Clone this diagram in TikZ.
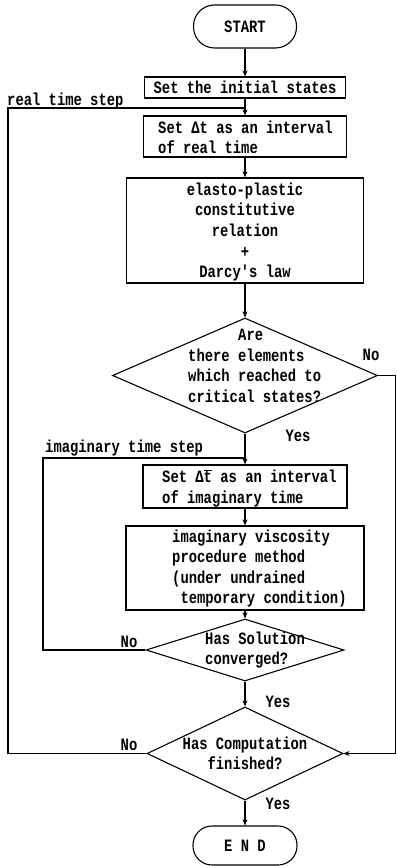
\documentclass[tikz,border=0pt]{standalone}
\usepackage{fontspec}
\newfontfamily\tw[FakeStretch=0.8]{Liberation Mono}
\usetikzlibrary{shapes.geometric,arrows.meta}
\begin{document}
\begin{tikzpicture}[x=1pt,y=-1pt,
  every node/.style={font=\tw\bfseries\fontsize{17.3}{20.6}\selectfont},
  box/.style={draw, line width=1.1pt, rectangle, inner sep=0pt},
  term/.style={draw, line width=1.1pt, rectangle, inner sep=0pt},
  dec/.style={draw, diamond, line width=1.1pt, inner sep=0pt},
  txt/.style={inner sep=0pt, align=left},
  lbl/.style={inner sep=0pt},
  ln/.style={line width=1.1pt},
  arr/.style={line width=1.1pt, -{Stealth[length=6pt,width=5pt]}},
  arrthin/.style={line width=0.7pt, -{Stealth[length=6pt,width=5pt]}}]
\useasboundingbox (0,0) rectangle (398,866);
\node[term, rounded corners=21pt, minimum width=103pt, minimum height=43pt] (start) at (245,26.5) {START};
\node[box, minimum width=201pt, minimum height=21pt] (init) at (245,87.5) {Set the initial states};
\node[box, minimum width=203pt, minimum height=41pt] (setdt) at (245,136.5) {};
\node[txt, anchor=west] (setdtT) at (158,137.5) {Set Δt as an interval\\of real time};
\node[box, minimum width=237pt, minimum height=105pt] (elasto) at (245,230.5) {};
\node[txt, align=center] (elastoT) at (245,232) {elasto-plastic\\constitutive\\relation\\+\\Darcy's law};
\node[dec, minimum width=265pt, minimum height=115pt] (d1) at (245,375.5) {};
\node[txt, anchor=west] (d1T) at (188,366) {\hspace*{50pt}Are\\there elements\\which reached to\\critical states?};
\node[box, minimum width=204pt, minimum height=43pt] (setdtau) at (245,486.5) {};
\node[txt, anchor=west] (setdtauT) at (162,488) {Set Δ$\overline{\hbox{t}}$ as an interval\\of imaginary time};
\node[box, minimum width=238pt, minimum height=84pt] (imag) at (245,568) {};
\node[txt, anchor=west] (imagT) at (172,568.5) {imaginary viscosity\\procedure method\\(under undrained\\\hspace*{8.3pt}temporary condition)};
\node[dec, minimum width=198pt, minimum height=62pt] (d2) at (245,650) {};
\node[txt, anchor=west] (d2T) at (205,650) {Has Solution\\converged?};
\node[dec, minimum width=196pt, minimum height=93pt] (d3) at (245,753.5) {};
\node[txt, align=center] (d3T) at (245,753.5) {Has Computation\\finished?};
\node[term, rounded corners=19pt, minimum width=104pt, minimum height=39pt] (end) at (245,845.5) {E N D};
% main flow
\draw[arr] (start) -- (init);
\draw[arr] (init) -- (setdt);
\draw[arr] (setdt) -- (elasto);
\draw[arr] (elasto) -- (d1);
\draw[arr] (d1) -- (setdtau);
\draw[arr] (setdtau) -- (imag);
\draw[arr] (imag) -- (d2);
\draw[arr] (d2) -- (d3);
\draw[arr] (d3) -- (end);
% loops
\coordinate (rj) at (245,108);
\coordinate (ij) at (245,458);
\draw[ln] (d3.west) -| (8,108) -- (rj);
\draw[ln] (d2.west) -| (43,458) -- (ij);
\draw[arrthin] (d1.east) -- (395,375.5) |- (d3.east);
% labels
\node[lbl, anchor=west] (lreal) at (7,101) {real time step};
\node[lbl, anchor=west] (limag) at (45,448) {imaginary time step};
\node[lbl] (no1) at (371,355) {No};
\node[lbl] (yes1) at (298,436) {Yes};
\node[lbl] (no2) at (129,642) {No};
\node[lbl] (yes2) at (278,702) {Yes};
\node[lbl] (no3) at (129,745) {No};
\node[lbl] (yes3) at (278,804) {Yes};
\end{tikzpicture}
\end{document}
